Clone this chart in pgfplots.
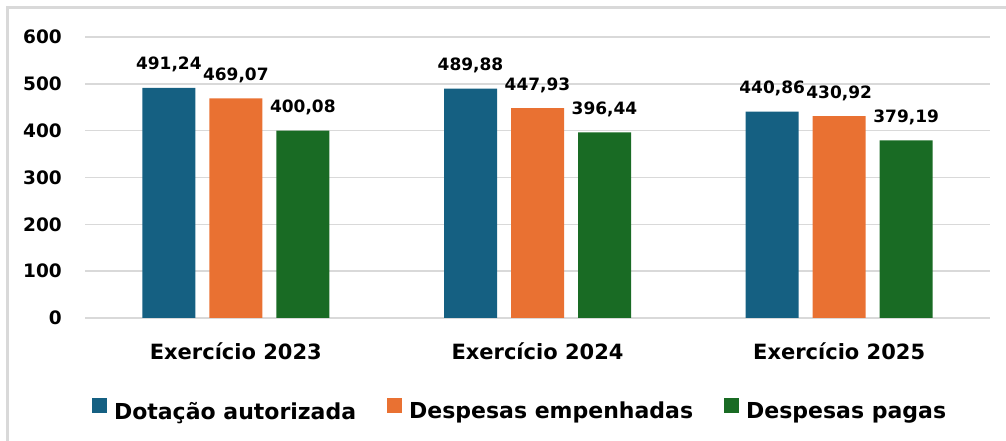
\documentclass[border=0pt]{standalone}
\usepackage{pgfplots}
\pgfplotsset{compat=1.18}
\usepackage{fontspec}
\setmainfont{DejaVu Sans}
\definecolor{cA}{HTML}{156082}
\definecolor{cB}{HTML}{E97132}
\definecolor{cC}{HTML}{196B24}
\definecolor{gridc}{HTML}{D9D9D9}
\begin{document}
\begin{tikzpicture}
\path[use as bounding box] (0,0) rectangle (1006pt,441pt);
\draw[gridc, line width=2.5pt] (7.5pt,-10pt) -- (7.5pt,433.5pt) -- (1020pt,433.5pt);
\begin{axis}[
  at={(85pt,123pt)}, anchor=south west,
  scale only axis, width=905pt, height=281pt,
  ymin=0, ymax=600, xmin=-0.5, xmax=2.5,
  ybar=14pt, bar width=53pt,
  axis line style={draw=none},
  major tick length=0pt, tick style={draw=none},
  ymajorgrids, grid style={gridc, line width=1.5pt},
  xtick={0,1,2},
  xticklabels={Exercício 2023, Exercício 2024, Exercício 2025},
  ytick={0,100,...,600},
  /pgf/number format/assume math mode=true,
  yticklabel style={font=\fontsize{18.5}{22}\selectfont\bfseries, inner sep=0pt, anchor=east, xshift=-23pt},
  xticklabel style={font=\fontsize{21}{25}\selectfont\bfseries, inner sep=0pt, anchor=base, yshift=-42pt},
  nodes near coords,
  every node near coord/.append style={font=\fontsize{17}{20}\selectfont\bfseries, anchor=base, inner sep=0pt, yshift=18pt,
     /pgf/number format/.cd, fixed, fixed zerofill, precision=2, use comma, 1000 sep={}, assume math mode=true},
  legend columns=3,
  legend style={at={(axis description cs:0.00773,-0.3256)}, anchor=west, draw=none, fill=none,
     inner sep=0pt, outer sep=0pt, font=\fontsize{22}{26}\selectfont\bfseries,
     nodes={inner sep=0pt},
     /tikz/every odd column/.append style={column sep=7pt},
     /tikz/every even column/.append style={column sep=31pt}},
  legend image code/.code={\fill[#1] (0pt,-2pt) rectangle (15pt,13pt);},
]
\addplot[fill=cA, draw=none] coordinates {(0,491.24) (1,489.88) (2,440.86)};
\addplot[fill=cB, draw=none] coordinates {(0,469.07) (1,447.93) (2,430.92)};
\addplot[fill=cC, draw=none] coordinates {(0,400.08) (1,396.44) (2,379.19)};
\legend{Dotação autorizada, Despesas empenhadas, Despesas pagas}
\end{axis}
\end{tikzpicture}
\end{document}
